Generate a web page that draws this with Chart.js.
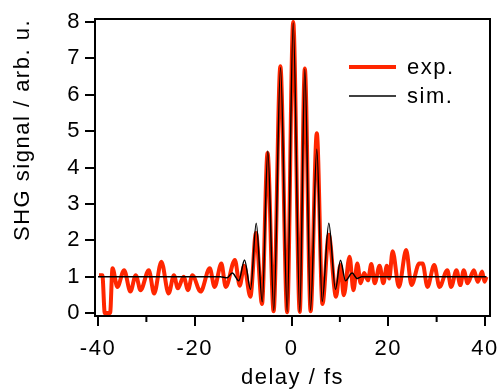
<!DOCTYPE html>
<html>
<head>
<meta charset="utf-8">
<script src="https://cdn.jsdelivr.net/npm/chart.js@4.4.1/dist/chart.umd.min.js"></script>
<style>
  html, body { margin: 0; padding: 0; background: #fff; }
</style>
</head>
<body>
<canvas id="shgChart" width="501" height="391"></canvas>
<script>
// simulated autocorrelation (black)
const simDelay = [-40, -14.7, -13.3, -12.25, -10.9, -9.71, -8.47, -7.29, -6.05, -4.9, -3.66, -2.27, -0.89, 0.35,
  1.71, 2.75, 3.93, 5.23, 6.34, 7.71, 9.09, 10.12, 11.16, 12.54, 13.57, 14.5, 40.3];
const simSignal = [1.0, 1.0, 0.97, 1.1, 0.89, 1.46, 0.65, 2.47, 0.31, 4.45, 0.08, 6.75, 0.04, 7.97,
  0.04, 6.7, 0.08, 4.5, 0.32, 2.47, 0.65, 1.45, 0.89, 1.1, 0.95, 1.0, 1.0];

// measured autocorrelation (red)
const expDelay = [-39.8, -39.1, -38.6, -37.5, -37.0, -36.0, -34.6, -33.3, -32.2, -31.2, -29.5, -28.4, -26.9, -25.4,
  -24.3, -23.5, -22.3, -21.4, -20.5, -18.8, -16.9, -15.9, -14.5, -13.6, -11.7, -10.7, -9.8, -8.5, -7.35, -6.1,
  -4.95, -3.7, -2.3, -0.9, 0.35, 1.7, 2.75, 3.95, 5.23, 6.4, 7.7, 9.2, 10.1, 10.8, 12.0, 12.8, 13.6, 14.3, 15.0,
  15.8, 16.5, 17.2, 18.2, 19.0, 19.7, 20.2, 20.9, 22.2, 23.7, 24.8, 26.4, 27.1, 28.1, 29.5, 30.6, 32.2, 33.0,
  34.1, 34.9, 35.6, 36.4, 37.7, 38.5, 39.4, 39.9, 40.3];
const expSignal = [1.04, 1.04, 0.0, 0.0, 1.23, 0.72, 1.18, 0.59, 1.04, 0.63, 1.18, 0.54, 1.41, 0.54,
  1.04, 0.68, 1.0, 0.63, 1.04, 0.59, 1.23, 0.72, 1.36, 0.72, 1.46, 0.75, 1.3, 0.45, 2.2, 0.25,
  4.4, 0.05, 6.78, 0.02, 8.0, 0.03, 6.72, 0.05, 4.94, 0.25, 2.15, 0.45, 1.32, 0.49, 1.55, 0.63, 1.36, 0.82, 1.1,
  0.9, 1.35, 0.82, 1.3, 0.82, 1.3, 0.95, 1.7, 0.72, 1.73, 0.77, 1.36, 1.36, 0.72, 1.32, 0.72, 1.18, 0.72,
  1.18, 0.77, 1.18, 0.82, 1.18, 0.86, 1.14, 0.86, 1.0];

const seriesLabels = ['exp.', 'sim.'];
const xTickValues = [-40, -20, 0, 20, 40];
const xMinorTicks = [-30, -10, 10, 30];
const yTickValues = [0, 1, 2, 3, 4, 5, 6, 7, 8];

const FONT = 'Liberation Sans, Arial, sans-serif';

const toPoints = (xs, ys) => xs.map((x, i) => ({ x: x, y: ys[i] }));

// the reference lettering is a little wider than Liberation Sans
const spacingPlugin = {
    id: 'spacing',
    beforeDraw(chart) { chart.ctx.letterSpacing = '1.5px'; }
};

// box, minor ticks and the in-plot legend
const framePlugin = {
    id: 'frame',
    afterDatasetsDraw(chart) {
        const { ctx, chartArea: a, scales } = chart;
        ctx.save();
        ctx.strokeStyle = '#000';
        ctx.lineWidth = 2;
        ctx.strokeRect(a.left, a.top, a.right - a.left, a.bottom - a.top);

        ctx.beginPath();
        xMinorTicks.forEach((v) => {
            const px = scales.x.getPixelForValue(v);
            ctx.moveTo(px, a.bottom);
            ctx.lineTo(px, a.bottom + 6);
        });
        ctx.stroke();

        // legend
        ctx.font = '22px ' + FONT;
        ctx.textBaseline = 'middle';
        ctx.fillStyle = '#000';
        chart.data.datasets.forEach((ds, i) => {
            const y = 67 + i * 29;
            ctx.beginPath();
            ctx.strokeStyle = ds.borderColor;
            ctx.lineWidth = ds.borderWidth;
            ctx.moveTo(349, y);
            ctx.lineTo(396, y);
            ctx.stroke();
            ctx.fillText(ds.label, 407, y + 1);
        });
        ctx.restore();
    }
};

new Chart(document.getElementById('shgChart').getContext('2d'), {
    type: 'line',
    data: {
        datasets: [{
            label: seriesLabels[0],
            data: toPoints(expDelay, expSignal),
            borderColor: 'rgb(255, 38, 0)',
            borderWidth: 4,
            pointRadius: 0,
            cubicInterpolationMode: 'monotone',
            order: 1
        }, {
            label: seriesLabels[1],
            data: toPoints(simDelay, simSignal),
            borderColor: '#000',
            borderWidth: 1.5,
            pointRadius: 0,
            cubicInterpolationMode: 'monotone',
            order: 0
        }]
    },
    options: {
        responsive: false,
        devicePixelRatio: 1,
        animation: false,
        layout: { padding: { top: 19, right: 11, left: 0, bottom: 0 } },
        plugins: { legend: { display: false }, tooltip: { enabled: false } },
        scales: {
            x: {
                type: 'linear',
                min: -40.62,
                max: 41.03,
                afterFit: (scale) => { scale.height = 75; scale.paddingLeft = 0; scale.paddingRight = 0; },
                afterBuildTicks: (scale) => { scale.ticks = xTickValues.map((v) => ({ value: v })); },
                grid: { drawOnChartArea: false, drawTicks: true, tickLength: 10, lineWidth: 2, color: '#000' },
                border: { display: false },
                ticks: { color: '#000', font: { family: FONT, size: 22 }, padding: 10, maxRotation: 0, autoSkip: false },
                title: { display: true, text: 'delay / fs', color: '#000', font: { family: FONT, size: 22 }, padding: { top: 0, bottom: 0 } }
            },
            y: {
                type: 'linear',
                min: -0.08,
                max: 8.08,
                afterFit: (scale) => { scale.width = 95; scale.paddingTop = 0; scale.paddingBottom = 0; },
                afterBuildTicks: (scale) => { scale.ticks = yTickValues.map((v) => ({ value: v })); },
                grid: { drawOnChartArea: false, drawTicks: true, tickLength: 10, lineWidth: 2, color: '#000' },
                border: { display: false },
                ticks: { color: '#000', font: { family: FONT, size: 22 }, padding: 4, autoSkip: false },
                title: { display: true, text: 'SHG signal / arb. u.', align: 'end', color: '#000', font: { family: FONT, size: 22 }, padding: { top: 10, bottom: 0 } }
            }
        }
    },
    plugins: [spacingPlugin, framePlugin]
});
</script>
</body>
</html>
